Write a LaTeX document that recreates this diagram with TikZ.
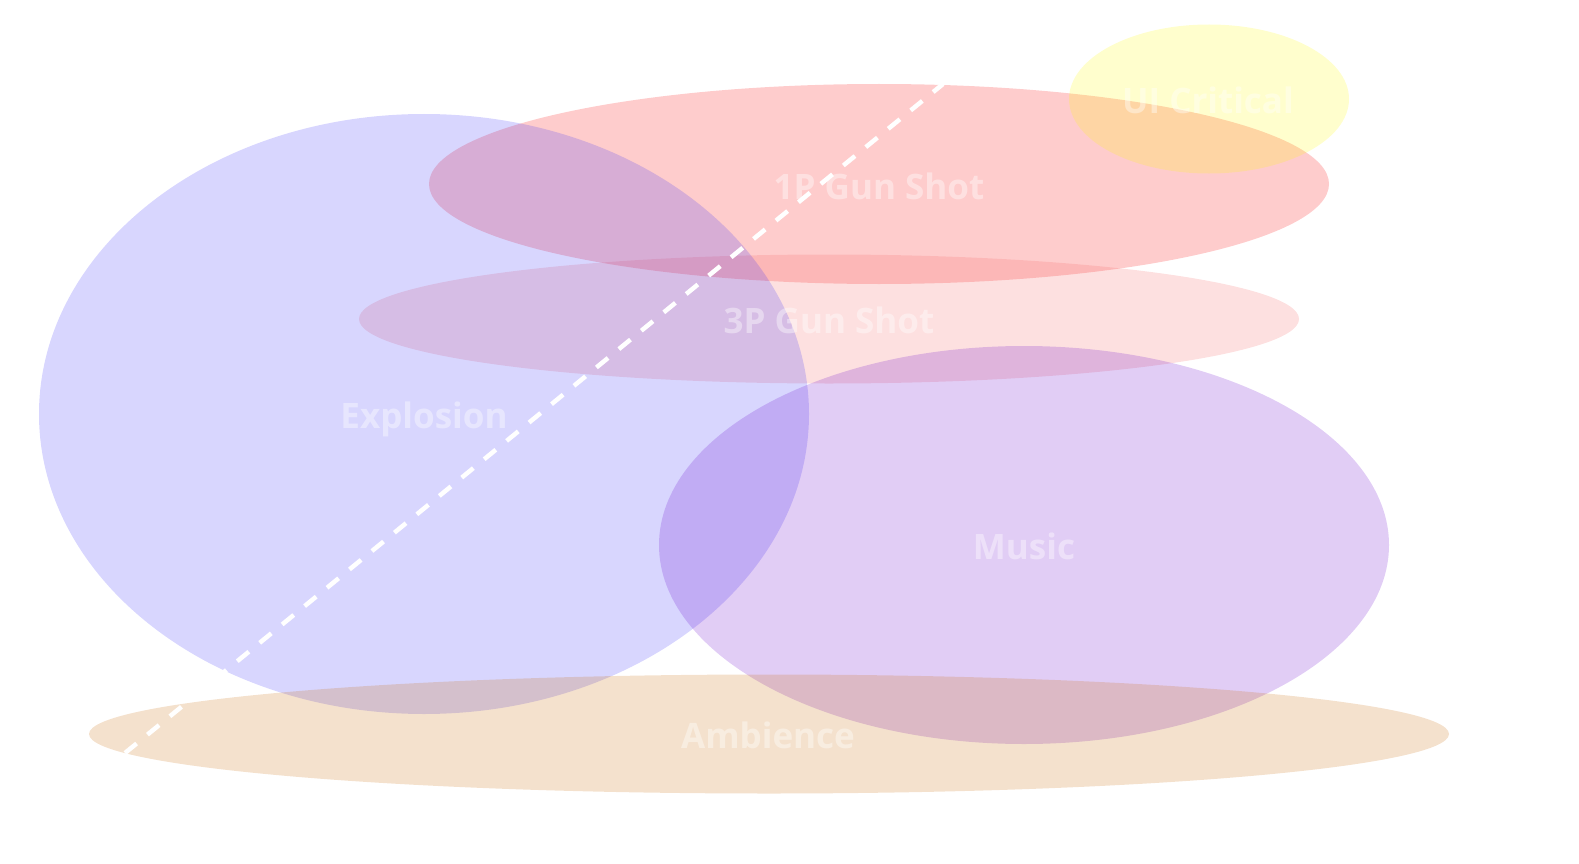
\documentclass[tikz,border=0pt]{standalone}
\usepackage{fontspec}
\setmainfont{Open Sans}[BoldFont={* Bold}]
\definecolor{cExpl}{RGB}{60,50,250}
\definecolor{cOneP}{RGB}{250,0,0}
\definecolor{cThreeP}{RGB}{245,100,100}
\definecolor{cMusic}{RGB}{105,5,205}
\definecolor{cAmb}{RGB}{200,105,5}
\definecolor{cUI}{RGB}{255,250,5}
\begin{document}
\begin{tikzpicture}[x=1pt,y=-1pt,
  setshape/.style={fill=#1,fill opacity=0.2,draw=none},
  setlabel/.style={text=white,text opacity=0.4,font=\fontsize{35}{42}\selectfont\bfseries,inner sep=0pt,text height=26pt,text depth=0pt},
  linkline/.style={draw=white,line width=4.5pt,dash pattern=on 15pt off 14pt}]
\useasboundingbox (0,0) rectangle (1579,864);
\fill[setshape=cOneP] (879,184) ellipse [x radius=450,y radius=100];
\fill[setshape=cThreeP] (829,319) ellipse [x radius=470,y radius=64.5];
\fill[setshape=cUI] (1209,99) ellipse [x radius=140,y radius=74.5];
\fill[setshape=cExpl] (424,414) ellipse [x radius=385,y radius=300];
\fill[setshape=cMusic] (1024,545) ellipse [x radius=365,y radius=199];
\fill[setshape=cAmb] (769,734) ellipse [x radius=680,y radius=59.5];
\node[setlabel] (expl) at (424,415) {Explosion};
\node[setlabel] (onep) at (879,186) {1P Gun Shot};
\node[setlabel] (threep) at (829,320) {3P Gun Shot};
\node[setlabel] (music) at (1024,546) {Music};
\node[setlabel] (amb) at (768,735) {Ambience};
\node[setlabel] (ui) at (1208,101) {UI Critical};
\coordinate (lineA) at (125,753);
\coordinate (lineB) at (943,84);
\draw[linkline] (lineA) -- (lineB);
\end{tikzpicture}
\end{document}
